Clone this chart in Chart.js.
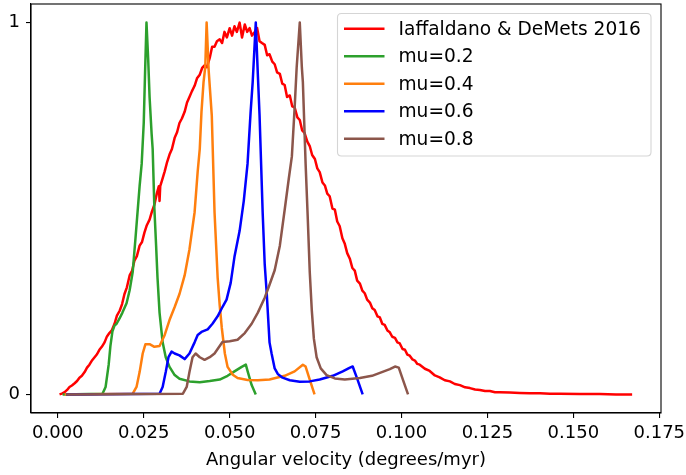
<!DOCTYPE html>
<html>
<head>
<meta charset="utf-8">
<script src="https://cdn.jsdelivr.net/npm/chart.js@4.4.0/dist/chart.umd.min.js"></script>
<style>
  html, body { margin: 0; padding: 0; background: #fff; }
  #wrap { width: 686px; height: 475px; }
</style>
</head>
<body>
<div id="wrap"><canvas id="c" width="686" height="475"></canvas></div>
<script>
// ---- data ----
const seriesLabels = ['Iaffaldano & DeMets 2016', 'mu=0.2', 'mu=0.4', 'mu=0.6', 'mu=0.8'];
const seriesColors = ['#ff0000', '#2ca02c', '#ff7f0e', '#0000ff', '#8c564b'];
const xTicks = [0, 0.025, 0.05, 0.075, 0.1, 0.125, 0.15, 0.175];
const yTicks = [0, 1];

const redX = [0.0005,0.0012,0.0020,0.0027,0.0034,0.0041,0.0049,0.0056,0.0063,0.0070,0.0078,0.0085,0.0092,0.0100,0.0107,0.0114,0.0121,0.0128,0.0136,0.0143,0.0150,0.0157,0.0165,0.0172,0.0180,0.0187,0.0194,0.0201,0.0209,0.0216,0.0223,0.0230,0.0238,0.0245,0.0252,0.0259,0.0267,0.0274,0.0281,0.0288,0.0294,0.0296,0.0298,0.0303,0.0311,0.0318,0.0325,0.0332,0.0340,0.0347,0.0354,0.0361,0.0369,0.0376,0.0383,0.0390,0.0398,0.0405,0.0413,0.0420,0.0427,0.0434,0.0442,0.0449,0.0456,0.0463,0.0471,0.0478,0.0485,0.0492,0.0500,0.0507,0.0514,0.0521,0.0529,0.0536,0.0544,0.0551,0.0558,0.0565,0.0573,0.0580,0.0587,0.0594,0.0602,0.0609,0.0616,0.0624,0.0631,0.0638,0.0646,0.0653,0.0660,0.0667,0.0675,0.0682,0.0689,0.0697,0.0704,0.0711,0.0718,0.0726,0.0733,0.0740,0.0748,0.0755,0.0762,0.0770,0.0777,0.0784,0.0791,0.0799,0.0806,0.0813,0.0820,0.0828,0.0835,0.0842,0.0850,0.0857,0.0864,0.0871,0.0879,0.0886,0.0893,0.0900,0.0908,0.0915,0.0922,0.0930,0.0937,0.0944,0.0951,0.0959,0.0966,0.0973,0.0981,0.0988,0.0995,0.1003,0.1010,0.1017,0.1024,0.1032,0.1039,0.1046,0.1053,0.1068,0.1082,0.1097,0.1111,0.1126,0.1141,0.1155,0.1170,0.1185,0.1199,0.1214,0.1228,0.1243,0.1257,0.1272,0.1286,0.1315,0.1344,0.1373,0.1403,0.1432,0.1461,0.1519,0.1577,0.1624,0.1671];
const redY = [0.000,0.002,0.006,0.012,0.020,0.024,0.030,0.036,0.045,0.050,0.060,0.072,0.080,0.092,0.100,0.108,0.120,0.128,0.140,0.156,0.165,0.172,0.190,0.212,0.225,0.243,0.270,0.288,0.320,0.332,0.360,0.372,0.400,0.410,0.435,0.455,0.470,0.492,0.510,0.540,0.560,0.520,0.560,0.575,0.600,0.625,0.645,0.660,0.690,0.705,0.730,0.742,0.760,0.785,0.800,0.815,0.830,0.850,0.860,0.878,0.885,0.880,0.905,0.935,0.935,0.950,0.955,0.945,0.975,0.960,0.985,0.965,0.990,0.975,1.000,0.960,0.995,0.975,0.985,0.965,0.975,0.985,0.950,0.945,0.940,0.912,0.915,0.895,0.888,0.866,0.862,0.836,0.832,0.800,0.804,0.775,0.772,0.745,0.738,0.710,0.703,0.680,0.668,0.644,0.633,0.608,0.598,0.570,0.562,0.540,0.533,0.500,0.497,0.465,0.453,0.420,0.405,0.380,0.364,0.340,0.333,0.306,0.298,0.279,0.272,0.255,0.247,0.232,0.227,0.210,0.207,0.190,0.187,0.172,0.167,0.155,0.152,0.140,0.137,0.122,0.120,0.107,0.104,0.094,0.091,0.082,0.080,0.069,0.063,0.051,0.046,0.038,0.035,0.028,0.025,0.019,0.017,0.013,0.012,0.009,0.009,0.006,0.006,0.005,0.004,0.003,0.003,0.002,0.002,0.001,0.001,0.000,0.000];

const mu2X = [0.0014,0.0130,0.0139,0.0148,0.0153,0.0159,0.0165,0.0171,0.0180,0.0188,0.0200,0.0209,0.0218,0.0226,0.0232,0.0238,0.0244,0.0250,0.0254,0.0258,0.0263,0.0267,0.0273,0.0276,0.0281,0.0286,0.0290,0.0296,0.0305,0.0314,0.0325,0.0340,0.0354,0.0383,0.0413,0.0442,0.0471,0.0494,0.0514,0.0535,0.0547,0.0553,0.0564,0.0576];
const mu2Y = [0.000,0.002,0.020,0.080,0.130,0.170,0.185,0.190,0.205,0.220,0.245,0.280,0.330,0.420,0.490,0.560,0.620,0.730,0.870,1.000,0.900,0.800,0.700,0.660,0.500,0.400,0.315,0.220,0.140,0.100,0.074,0.052,0.042,0.035,0.033,0.036,0.040,0.050,0.062,0.074,0.080,0.060,0.025,0.000];

const mu4X = [0.0020,0.0218,0.0229,0.0238,0.0247,0.0255,0.0267,0.0281,0.0296,0.0311,0.0325,0.0340,0.0354,0.0369,0.0383,0.0398,0.0407,0.0413,0.0418,0.0424,0.0429,0.0433,0.0439,0.0448,0.0456,0.0465,0.0471,0.0477,0.0486,0.0494,0.0509,0.0523,0.0552,0.0582,0.0616,0.0660,0.0689,0.0713,0.0721,0.0733,0.0747];
const mu4Y = [0.000,0.002,0.020,0.060,0.110,0.135,0.135,0.128,0.130,0.160,0.200,0.235,0.270,0.320,0.390,0.490,0.600,0.660,0.760,0.840,0.880,1.000,0.870,0.750,0.490,0.315,0.240,0.180,0.110,0.074,0.053,0.044,0.039,0.038,0.040,0.050,0.062,0.080,0.075,0.040,0.000];

const mu6X = [0.0024,0.0296,0.0305,0.0314,0.0322,0.0331,0.0340,0.0354,0.0369,0.0383,0.0398,0.0407,0.0418,0.0436,0.0450,0.0465,0.0479,0.0491,0.0503,0.0514,0.0529,0.0541,0.0552,0.0561,0.0567,0.0576,0.0582,0.0587,0.0596,0.0602,0.0608,0.0616,0.0622,0.0631,0.0640,0.0654,0.0675,0.0704,0.0733,0.0762,0.0800,0.0829,0.0850,0.0858,0.0870,0.0887];
const mu6Y = [0.000,0.002,0.020,0.060,0.100,0.115,0.110,0.105,0.095,0.110,0.140,0.160,0.168,0.175,0.190,0.210,0.235,0.255,0.300,0.370,0.440,0.520,0.620,0.760,0.840,1.000,0.860,0.750,0.490,0.350,0.270,0.140,0.110,0.070,0.055,0.045,0.038,0.034,0.035,0.040,0.050,0.062,0.072,0.075,0.045,0.000];

const mu8X = [0.0024,0.0364,0.0375,0.0383,0.0392,0.0401,0.0413,0.0427,0.0442,0.0456,0.0471,0.0479,0.0500,0.0523,0.0544,0.0564,0.0582,0.0602,0.0616,0.0631,0.0646,0.0660,0.0672,0.0681,0.0689,0.0695,0.0704,0.0710,0.0713,0.0721,0.0727,0.0733,0.0739,0.0745,0.0753,0.0765,0.0782,0.0806,0.0835,0.0879,0.0914,0.0943,0.0966,0.0981,0.0992,0.1004,0.1019];
const mu8Y = [0.000,0.002,0.020,0.060,0.100,0.110,0.100,0.093,0.100,0.110,0.130,0.141,0.143,0.147,0.165,0.190,0.220,0.260,0.295,0.334,0.400,0.496,0.580,0.640,0.770,0.880,1.000,0.880,0.840,0.620,0.480,0.330,0.226,0.150,0.100,0.070,0.052,0.043,0.040,0.044,0.050,0.060,0.068,0.075,0.072,0.040,0.000];

const seriesX = [redX, mu2X, mu4X, mu6X, mu8X];
const seriesY = [redY, mu2Y, mu4Y, mu6Y, mu8Y];

const FONT = '"DejaVu Sans", sans-serif';
const FS = 18;
const LEGEND_FS = 18.6;

const datasets = seriesLabels.map((lab, i) => ({
  label: lab,
  data: seriesX[i].map((x, k) => ({ x: x, y: seriesY[i][k] })),
  borderColor: seriesColors[i],
  backgroundColor: seriesColors[i],
  borderWidth: 2.5,
  pointRadius: 0,
  tension: 0,
  fill: false,
  borderJoinStyle: 'round',
  borderCapStyle: 'butt',
  order: seriesLabels.length - i
}));

const framePlugin = {
  id: 'frame',
  afterDraw(chart) {
    const ctx = chart.ctx, a = chart.chartArea;
    ctx.save();
    ctx.strokeStyle = '#000';
    ctx.lineWidth = 1.1;
    ctx.strokeRect(a.left, a.top, a.right - a.left, a.bottom - a.top);
    // legend
    const bx = 337.5, by = 13.5, bw = 313.5, bh = 142.5, r = 4;
    ctx.beginPath();
    ctx.moveTo(bx + r, by);
    ctx.lineTo(bx + bw - r, by);
    ctx.quadraticCurveTo(bx + bw, by, bx + bw, by + r);
    ctx.lineTo(bx + bw, by + bh - r);
    ctx.quadraticCurveTo(bx + bw, by + bh, bx + bw - r, by + bh);
    ctx.lineTo(bx + r, by + bh);
    ctx.quadraticCurveTo(bx, by + bh, bx, by + bh - r);
    ctx.lineTo(bx, by + r);
    ctx.quadraticCurveTo(bx, by, bx + r, by);
    ctx.closePath();
    ctx.fillStyle = 'rgba(255,255,255,0.8)';
    ctx.fill();
    ctx.strokeStyle = '#d5d5d5';
    ctx.lineWidth = 1.1;
    ctx.stroke();
    ctx.font = LEGEND_FS + 'px ' + FONT;
    ctx.textBaseline = 'middle';
    ctx.textAlign = 'left';
    chart.data.datasets.forEach((ds, i) => {
      const yy = 28.7 + 27.5 * i;
      ctx.beginPath();
      ctx.strokeStyle = ds.borderColor;
      ctx.lineWidth = 2.5;
      ctx.moveTo(344, yy);
      ctx.lineTo(384.5, yy);
      ctx.stroke();
      ctx.fillStyle = '#000';
      ctx.fillText(ds.label, 398.5, yy + 1);
    });
    ctx.restore();
  }
};

new Chart(document.getElementById('c'), {
  type: 'line',
  data: { datasets: datasets },
  plugins: [framePlugin],
  options: {
    responsive: false,
    animation: false,
    devicePixelRatio: 1,
    layout: { padding: { left: 0, right: 25, top: 4, bottom: 0 } },
    plugins: { legend: { display: false }, tooltip: { enabled: false } },
    scales: {
      x: {
        type: 'linear',
        min: -0.0078,
        max: 0.1755,
        afterBuildTicks: (s) => { s.ticks = xTicks.map(v => ({ value: v })); },
        afterFit: (s) => { s.height = 62; s.paddingLeft = 0; s.paddingRight = 0; },
        ticks: {
          color: '#000',
          font: { family: FONT, size: FS },
          padding: 5,
          maxRotation: 0,
          autoSkip: false,
          callback: (v) => Number(v).toFixed(3)
        },
        grid: { display: true, drawOnChartArea: false, drawTicks: true, tickLength: 5, color: '#000', lineWidth: 1.1 },
        border: { display: true, color: '#000', width: 1.1 },
        title: { display: true, text: 'Angular velocity (degrees/myr)', color: '#000', font: { family: FONT, size: FS }, padding: { top: 2, bottom: 4 } }
      },
      y: {
        type: 'linear',
        min: -0.05,
        max: 1.05,
        afterBuildTicks: (s) => { s.ticks = yTicks.map(v => ({ value: v })); },
        afterFit: (s) => { s.width = 31; s.paddingTop = 0; s.paddingBottom = 0; },
        ticks: {
          color: '#000',
          font: { family: FONT, size: FS },
          padding: 6,
          autoSkip: false,
          callback: (v) => String(v)
        },
        grid: { display: true, drawOnChartArea: false, drawTicks: true, tickLength: 5, color: '#000', lineWidth: 1.1 },
        border: { display: true, color: '#000', width: 1.1 }
      }
    }
  }
});
</script>
</body>
</html>
